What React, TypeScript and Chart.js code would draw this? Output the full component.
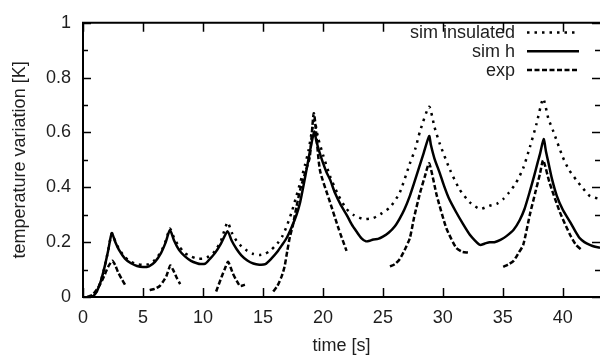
import React, { useEffect, useRef } from 'react';
import { Chart, registerables } from 'chart.js';

Chart.register(...registerables);

// ---- data ----
const hTime = [0.6, 0.9, 1.2, 1.5, 1.8, 2.1, 2.4, 2.7, 3.0, 3.5, 4.0, 4.5, 5.0, 5.5, 6.0, 6.5, 6.9, 7.25, 7.6, 8.0, 8.5, 9.0, 9.5, 9.8, 10.2, 10.6, 11.0, 11.5, 12.05, 12.4, 12.8, 13.2, 13.7, 14.2, 14.7, 15.2, 15.7, 16.2, 16.6, 17.0, 17.4, 17.8, 18.1, 18.4, 18.7, 19.0, 19.28, 19.45, 19.7, 20.0, 20.3, 20.6, 21.0, 21.5, 22.0, 22.4, 22.8, 23.2, 23.6, 23.9, 24.2, 24.6, 25.0, 25.5, 26.0, 26.4, 26.8, 27.25, 27.6, 28.0, 28.4, 28.86, 29.0, 29.3, 29.75, 30.1, 30.5, 31.1, 31.7, 32.25, 32.7, 33.1, 33.5, 33.9, 34.3, 34.8, 35.3, 35.9, 36.4, 36.8, 37.25, 37.6, 37.9, 38.1, 38.4, 38.6, 38.8, 39.1, 39.5, 40.0, 40.6, 41.0, 41.4, 41.8, 42.25, 42.7, 43.1];
const hTemp = [0, 0.005, 0.025, 0.06, 0.11, 0.17, 0.233, 0.2, 0.172, 0.14, 0.123, 0.113, 0.109, 0.112, 0.128, 0.16, 0.2, 0.245, 0.205, 0.172, 0.148, 0.132, 0.123, 0.12, 0.122, 0.14, 0.16, 0.195, 0.24, 0.205, 0.175, 0.152, 0.133, 0.122, 0.118, 0.12, 0.14, 0.165, 0.19, 0.217, 0.255, 0.3, 0.345, 0.41, 0.48, 0.55, 0.603, 0.57, 0.53, 0.49, 0.455, 0.428, 0.38, 0.335, 0.298, 0.265, 0.239, 0.215, 0.203, 0.205, 0.21, 0.212, 0.22, 0.235, 0.258, 0.286, 0.32, 0.369, 0.415, 0.47, 0.525, 0.587, 0.555, 0.505, 0.451, 0.405, 0.36, 0.31, 0.265, 0.227, 0.205, 0.19, 0.195, 0.2, 0.2, 0.208, 0.222, 0.245, 0.28, 0.32, 0.385, 0.44, 0.49, 0.522, 0.576, 0.53, 0.49, 0.43, 0.369, 0.318, 0.274, 0.243, 0.215, 0.2, 0.19, 0.183, 0.18];

const insTime = [0.6, 0.9, 1.2, 1.5, 1.8, 2.1, 2.4, 2.7, 3.0, 3.5, 4.0, 4.5, 5.0, 5.5, 6.0, 6.5, 6.9, 7.25, 7.6, 8.0, 8.5, 9.0, 9.5, 10.0, 10.5, 11.0, 11.5, 12.05, 12.4, 12.8, 13.2, 13.7, 14.2, 14.7, 15.2, 15.7, 16.2, 16.6, 17.0, 17.4, 17.8, 18.1, 18.5, 18.8, 19.28, 19.6, 20.0, 20.6, 21.3, 21.97, 22.6, 23.4, 24.2, 24.9, 25.6, 26.4, 27.25, 27.7, 28.1, 28.86, 29.3, 29.75, 30.6, 31.4, 32.25, 33.1, 33.9, 34.5, 35.03, 35.5, 36.1, 36.7, 37.25, 37.8, 38.36, 38.8, 39.2, 40.0, 40.5, 41.1, 41.7, 42.25, 43.1];
const insTemp = [0, 0.005, 0.025, 0.06, 0.11, 0.17, 0.232, 0.202, 0.175, 0.145, 0.128, 0.12, 0.117, 0.12, 0.135, 0.165, 0.205, 0.25, 0.215, 0.185, 0.16, 0.148, 0.14, 0.14, 0.148, 0.167, 0.205, 0.272, 0.235, 0.205, 0.185, 0.168, 0.157, 0.153, 0.158, 0.172, 0.195, 0.22, 0.26, 0.31, 0.37, 0.416, 0.48, 0.534, 0.645, 0.58, 0.52, 0.44, 0.37, 0.321, 0.298, 0.284, 0.288, 0.305, 0.327, 0.38, 0.487, 0.54, 0.605, 0.694, 0.62, 0.558, 0.463, 0.392, 0.345, 0.321, 0.333, 0.34, 0.357, 0.38, 0.416, 0.47, 0.546, 0.63, 0.723, 0.65, 0.605, 0.51, 0.465, 0.428, 0.395, 0.369, 0.357];

const expTime = [0.36, 0.8, 1.4, 1.8, 2.08, 2.45, 2.7, 2.92, 3.2, 3.5, 4.5, 5.56, 6.0, 6.4, 6.7, 6.94, 7.28, 7.5, 7.78, 8.1, 9.5, 11.1, 11.55, 11.8, 12.1, 12.5, 12.8, 13.1, 13.5, 14.5, 15.86, 16.2, 16.56, 16.8, 17.03, 17.25, 17.5, 17.8, 18.1, 18.5, 18.9, 19.25, 19.75, 20.6, 21.3, 21.97, 24.0, 25.6, 26.0, 26.4, 26.8, 27.25, 27.6, 28.1, 28.5, 28.86, 29.5, 30.3, 31.1, 31.6, 32.1, 33.5, 35.03, 35.5, 35.9, 36.3, 36.7, 37.25, 37.7, 38.1, 38.36, 38.9, 39.75, 40.6, 41.1, 41.6];
const expTemp = [0, 0.008, 0.044, 0.08, 0.109, 0.132, 0.115, 0.091, 0.068, 0.045, null, 0.025, 0.03, 0.04, 0.058, 0.075, 0.115, 0.1, 0.073, 0.047, null, 0.02, 0.073, 0.1, 0.128, 0.085, 0.06, 0.04, 0.045, null, 0.02, 0.04, 0.075, 0.11, 0.168, 0.22, 0.262, 0.33, 0.39, 0.45, 0.51, 0.67, 0.463, 0.345, 0.25, 0.168, null, 0.111, 0.12, 0.138, 0.17, 0.215, 0.29, 0.38, 0.44, 0.487, 0.369, 0.25, 0.18, 0.165, 0.162, null, 0.11, 0.12, 0.132, 0.16, 0.19, 0.3, 0.38, 0.45, 0.499, 0.416, 0.31, 0.227, 0.19, 0.17];

const seriesLabels = ['sim insulated', 'sim h', 'exp'];
const xTickValues = [0, 5, 10, 15, 20, 25, 30, 35, 40];
const yTickValues = [0, 0.2, 0.4, 0.6, 0.8, 1];
const yMinorTickValues = [0.1, 0.3, 0.5, 0.7, 0.9];
const xTitle = 'time [s]';
const yTitle = 'temperature variation [K]';

const FONT = "'Liberation Sans', Arial, Helvetica, sans-serif";
const TEXT = '#1e1e1e';

const zip = (xs: number[], ys: (number | null)[]) => xs.map((x, i) => ({ x, y: ys[i] }));

const dashes: number[][] = [[2.5, 5], [], [5, 2.5]];

const framePlugin = {
  id: 'gnuplotFrame',
  afterDraw(chart: any) {
    const { ctx, chartArea } = chart;
    const { left, right, top, bottom } = chartArea;
    const x = chart.scales.x;
    const y = chart.scales.y;
    ctx.save();
    ctx.strokeStyle = '#000';
    ctx.setLineDash([]);
    ctx.lineWidth = 2;
    ctx.beginPath();
    ctx.moveTo(left, top);
    ctx.lineTo(right + 2, top);
    ctx.moveTo(left, top - 1);
    ctx.lineTo(left, bottom + 1);
    ctx.moveTo(left, bottom);
    ctx.lineTo(right + 2, bottom);
    ctx.stroke();

    ctx.lineWidth = 1.5;
    ctx.beginPath();
    xTickValues.forEach((v) => {
      const px = Math.round(x.getPixelForValue(v)) + 0.5;
      ctx.moveTo(px, bottom);
      ctx.lineTo(px, bottom - 9);
      ctx.moveTo(px, top);
      ctx.lineTo(px, top + 9);
    });
    yTickValues.forEach((v) => {
      const py = Math.round(y.getPixelForValue(v)) + 0.5;
      ctx.moveTo(left, py);
      ctx.lineTo(left + 8, py);
      ctx.moveTo(right, py);
      ctx.lineTo(right - 8, py);
    });
    yMinorTickValues.forEach((v) => {
      const py = Math.round(y.getPixelForValue(v)) + 0.5;
      ctx.moveTo(left, py);
      ctx.lineTo(left + 5, py);
      ctx.moveTo(right, py);
      ctx.lineTo(right - 5, py);
    });
    ctx.stroke();

    // legend
    ctx.font = `18px ${FONT}`;
    ctx.fillStyle = TEXT;
    ctx.textAlign = 'right';
    ctx.textBaseline = 'middle';
    chart.data.datasets.forEach((ds: any, i: number) => {
      const rowY = 33 + i * 18.8;
      ctx.fillText(ds.label, 515, rowY);
      ctx.save();
      ctx.strokeStyle = '#000';
      ctx.lineWidth = ds.borderWidth;
      ctx.setLineDash(ds.borderDash || []);
      ctx.beginPath();
      ctx.moveTo(527, rowY - 0.5);
      ctx.lineTo(579, rowY - 0.5);
      ctx.stroke();
      ctx.restore();
    });
    ctx.restore();
  },
};

export default function App() {
  const canvasRef = useRef<HTMLCanvasElement | null>(null);

  useEffect(() => {
    const canvas = canvasRef.current;
    if (!canvas) return;
    const chart = new Chart(canvas, {
      type: 'line',
      data: {
        datasets: [
          { label: seriesLabels[0], data: zip(insTime, insTemp) },
          { label: seriesLabels[1], data: zip(hTime, hTemp) },
          { label: seriesLabels[2], data: zip(expTime, expTemp) },
        ].map((d, i) => ({
          ...d,
          borderColor: '#000',
          backgroundColor: '#000',
          borderWidth: 2.5,
          borderDash: dashes[i],
          pointRadius: 0,
          tension: 0.2,
          fill: false,
          spanGaps: false,
        })) as any,
      },
      options: {
        animation: false,
        responsive: false,
        maintainAspectRatio: false,
        layout: { padding: { top: 15, right: 0, left: 0, bottom: 0 } },
        plugins: { legend: { display: false }, tooltip: { enabled: false } },
        scales: {
          x: {
            type: 'linear',
            min: 0,
            max: 43.1,
            grid: { display: false, drawTicks: false },
            border: { display: false },
            ticks: {
              padding: 10,
              color: TEXT,
              font: { family: FONT, size: 18 },
              maxRotation: 0,
              autoSkip: false,
              callback: (v: any) => String(v),
            },
            afterBuildTicks: (scale: any) => {
              scale.ticks = xTickValues.map((value) => ({ value }));
            },
            afterFit: (scale: any) => {
              scale.height = 59;
            },
            title: {
              display: true,
              text: xTitle,
              color: TEXT,
              font: { family: FONT, size: 18 },
              padding: { top: 0, bottom: -1 },
            },
          },
          y: {
            type: 'linear',
            min: 0,
            max: 1,
            grid: { display: false, drawTicks: false },
            border: { display: false },
            ticks: {
              padding: 12,
              color: TEXT,
              font: { family: FONT, size: 18 },
              autoSkip: false,
              callback: (v: any) => String(v),
            },
            afterBuildTicks: (scale: any) => {
              scale.ticks = yTickValues.map((value) => ({ value }));
            },
            afterFit: (scale: any) => {
              scale.width = 83;
            },
            title: {
              display: true,
              text: yTitle,
              color: TEXT,
              font: { family: FONT, size: 18 },
              padding: { top: 9, bottom: 0 },
            },
          },
        },
      },
      plugins: [framePlugin],
    });
    return () => chart.destroy();
  }, []);

  return (
    <div style={{ position: 'fixed', left: 0, top: 0, width: 600, height: 356, background: '#fff', overflow: 'hidden' }}>
      <canvas ref={canvasRef} width={600} height={356} style={{ display: 'block' }} />
    </div>
  );
}
